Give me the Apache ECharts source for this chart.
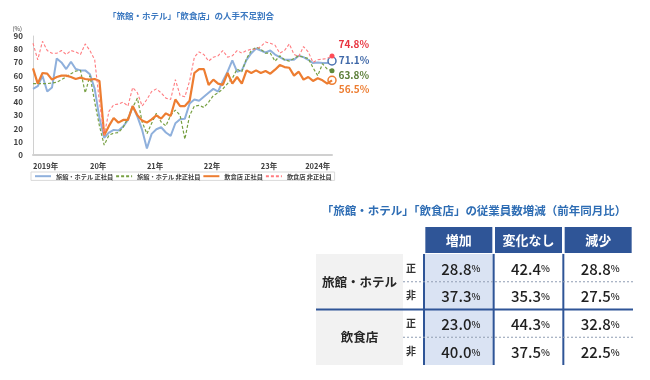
<!DOCTYPE html>
<html><head><meta charset="utf-8">
<script src="https://cdn.jsdelivr.net/npm/echarts@6/dist/echarts.min.js"></script>
<style>html,body{margin:0;padding:0;background:#fff}#c{width:650px;height:380px}</style>
</head><body><div id="c"></div>
<script>
const FONT = '"Noto Sans CJK JP", "Noto Sans", sans-serif';

// ---- line chart data (monthly, 2019/1 - 2024/4) ----
const months = [];
for (let i = 0; i < 64; i++) { months.push((2019 + Math.floor(i / 12)) + '/' + (i % 12 + 1)); }
const yearTickLabels = ['2019年', '20年', '21年', '22年', '23年', '2024年'];
const seriesNames = ['旅館・ホテル 正社員', '旅館・ホテル 非正社員', '飲食店 正社員', '飲食店 非正社員'];

const hotelStaff = [50, 52, 60, 48, 51, 73, 70, 65, 70.5, 65, 64, 64, 61, 50, 28, 13,
  17, 19, 18.5, 21.5, 26.5, 37, 29, 19, 5, 16, 19.5, 21, 17, 14.5, 24, 27,
  27.5, 39, 42, 41, 44, 47, 50, 48, 56, 63, 71.5, 63, 64, 72, 77, 80.5,
  79, 77.5, 79, 76, 74, 72, 72, 72, 75, 74, 72, 69.5, 70, 69.5, 69.5, 71.1];
const hotelPart = [54, 54, 54, 54, 54.5, 55, 57, 59, 61.5, 63.5, 64, 47, 60, 40, 22, 7.5,
  15, 16.5, 17, 21, 28, 36, 43, 25, 16, 24, 31.5, 25, 22, 30, 34, 30,
  12, 30, 37, 37.5, 36, 40, 45, 47, 50, 54, 58, 65, 63, 73, 79, 81.5,
  80, 77, 77, 71, 75, 72, 71, 73, 75, 74, 73, 66, 60, 69, 65, 63.8];
const restStaff = [65.5, 54, 62, 61.5, 57, 59, 60, 60, 59, 57.5, 58.5, 57.5, 57, 57.5, 56, 15,
  22, 28, 24.5, 26.5, 26.5, 37, 30, 26, 24.5, 27, 30, 27.5, 31.5, 29.5, 42, 37,
  37, 41, 62, 65, 65, 53, 57, 54, 53, 62, 54, 59, 54, 64, 62, 64,
  62, 63.5, 61.5, 64.5, 68, 66.5, 66, 60, 63, 57, 59, 56, 58, 56.5, 54, 56.5];
const restPart = [84.5, 72, 86, 79, 77, 77, 79, 76, 79, 78, 76, 84, 79, 72, 40, 15,
  33, 38, 38.5, 40, 37, 51, 47, 37, 42, 48, 50, 47, 43, 42, 57, 45,
  44, 56, 74, 78, 76, 71, 74, 75, 79, 74, 75, 79, 77, 79, 80, 80,
  82, 85.5, 84.5, 83, 77, 79, 84, 76, 74.5, 82, 78, 70, 72, 72.5, 73, 74.8];

// ---- table data ----
const tableTitle = '「旅館・ホテル」「飲食店」の従業員数増減（前年同月比）';
const tableCols = ['増加', '変化なし', '減少'];
const tableGroups = ['旅館・ホテル', '飲食店'];
const tableKinds = ['正', '非', '正', '非'];
const hotelStaffChange = [28.8, 42.4, 28.8];
const hotelPartChange = [37.3, 35.3, 27.5];
const restStaffChange = [23.0, 44.3, 32.8];
const restPartChange = [40.0, 37.5, 22.5];

// ---- layout ----
const G = { left: 33, top: 36, width: 299, height: 119 };
const TB = { left: 424, top: 254, width: 209, height: 111, groupLeft: 316, groupRight: 403 };
const BLUE = '#2f5597';

const last = months.length - 1;
function lineSeries(name, data, color, width, dash, mk) {
  return {
    type: 'line', name: name, data: data, xAxisIndex: 0, yAxisIndex: 0,
    symbol: 'none', smooth: false, z: mk.z,
    lineStyle: { color: color, width: width, type: dash || 'solid' },
    itemStyle: { color: color },
    markPoint: {
      symbol: 'circle', symbolSize: mk.size, silent: true,
      itemStyle: { color: mk.fill, borderColor: mk.border, borderWidth: mk.bw },
      label: {
        show: true, position: 'right', distance: mk.dist, offset: [0, mk.dy],
        formatter: function (p) { return p.value.toFixed(1) + '%'; },
        color: mk.labelColor, fontSize: 10, fontWeight: 'bold', fontFamily: FONT
      },
      data: [{ coord: [months[last], data[last]], value: data[last] }]
    }
  };
}

const tableRows = [hotelStaffChange, hotelPartChange, restStaffChange, restPartChange];
const tableData = [];
tableRows.forEach(function (row, r) { row.forEach(function (v, c) { tableData.push([c, r, v]); }); });

const graphics = [
  { type: 'text', x: 191, y: 16, z: 10, style: { text: '「旅館・ホテル」「飲食店」の人手不足割合', align: 'center', verticalAlign: 'middle', font: 'bold 8.5px ' + FONT, fill: '#3b78c0' } },
  { type: 'text', x: 474, y: 210.5, z: 10, style: { text: tableTitle, align: 'center', verticalAlign: 'middle', font: 'bold 11.5px ' + FONT, fill: '#2e6db4' } },
  { type: 'rect', z: 1, shape: { x: TB.groupLeft, y: TB.top, width: TB.groupRight - TB.groupLeft, height: TB.height }, style: { fill: '#f2f2f2' } }
];
tableGroups.forEach(function (g, i) {
  graphics.push({ type: 'text', z: 10, x: (TB.groupLeft + TB.groupRight) / 2, y: TB.top + TB.height * (i * 2 + 1) / 4,
    style: { text: g, align: 'center', verticalAlign: 'middle', font: 'bold 12.5px ' + FONT, fill: '#262626' } });
});
for (let c = 0; c < 3; c++) {
  const x = TB.left + c * TB.width / 3;
  graphics.push({ type: 'line', z: 100, shape: { x1: x, y1: TB.top, x2: x, y2: TB.top + TB.height }, style: { stroke: BLUE, lineWidth: 2 } });
}
[1, 3].forEach(function (k) {
  const y = TB.top + TB.height * k / 4;
  graphics.push({ type: 'line', z: 100, shape: { x1: TB.groupRight, y1: y, x2: TB.left + TB.width, y2: y }, style: { stroke: '#8f9db3', lineWidth: 1, lineDash: [2, 2] } });
});
graphics.push({ type: 'line', z: 100, shape: { x1: TB.groupLeft, y1: TB.top + TB.height / 2, x2: TB.left + TB.width, y2: TB.top + TB.height / 2 }, style: { stroke: BLUE, lineWidth: 2 } });

const option = {
  animation: false,
  backgroundColor: '#fff',
  textStyle: { fontFamily: FONT },
  grid: [
    { left: G.left, top: G.top, width: G.width, height: G.height, outerBoundsMode: 'none', containLabel: false },
    { left: TB.left, top: TB.top, width: TB.width, height: TB.height, outerBoundsMode: 'none', containLabel: false }
  ],
  legend: {
    data: seriesNames, left: 31, top: 172, padding: [1, 3], itemWidth: 16, itemHeight: 8, itemGap: 2,
    borderColor: '#d9d9d9', borderWidth: 1, itemStyle: { opacity: 0 },
    textStyle: { fontSize: 6.2, fontWeight: 'bold', color: '#404040', fontFamily: FONT }
  },
  xAxis: [
    {
      type: 'category', gridIndex: 0, data: months, boundaryGap: false,
      axisTick: { show: false },
      axisLine: { lineStyle: { color: '#d0d0d0', width: 2 } },
      axisLabel: {
        interval: function (i) { return i % 12 === 0; },
        formatter: function (v, i) { return yearTickLabels[Math.round(i / 12)]; },
        align: 'left', alignMaxLabel: 'center', margin: 7,
        fontSize: 7.5, fontWeight: 'bold', color: '#404040', fontFamily: FONT
      },
      splitLine: { show: false }
    },
    {
      type: 'category', gridIndex: 1, data: tableCols, position: 'top',
      axisTick: { show: false }, axisLine: { show: false }, splitLine: { show: false },
      axisLabel: {
        margin: 1, width: 67, height: 26, lineHeight: 26, align: 'center',
        backgroundColor: BLUE, color: '#fff', fontSize: 13, fontWeight: 'bold', fontFamily: FONT
      }
    }
  ],
  yAxis: [
    {
      type: 'value', gridIndex: 0, min: 0, max: 90, interval: 10,
      name: '(%)', nameLocation: 'end', nameGap: 4,
      nameTextStyle: { fontSize: 6, color: '#404040', align: 'right', padding: [0, 11, 0, 0], fontFamily: FONT },
      axisLine: { show: true, lineStyle: { color: '#d0d0d0', width: 1 } },
      axisTick: { show: false }, splitLine: { show: false },
      axisLabel: { margin: 10, fontSize: 8, fontWeight: 'bold', color: '#404040', fontFamily: FONT }
    },
    {
      type: 'category', gridIndex: 1, data: ['0', '1', '2', '3'], inverse: true,
      axisTick: { show: false }, axisLine: { show: false }, splitLine: { show: false },
      axisLabel: {
        formatter: function (v, i) { return tableKinds[i]; }, margin: 8,
        fontSize: 10, fontWeight: 'bold', color: '#333', fontFamily: FONT
      }
    }
  ],
  series: [
    lineSeries(seriesNames[0], hotelStaff, '#8fb0dc', 2, null,
      { z: 3, size: 8, fill: '#fff', border: '#4a72b0', bw: 1.5, dist: 2, dy: -1, labelColor: '#3f68a8' }),
    lineSeries(seriesNames[1], hotelPart, '#77a043', 1.2, [3, 2],
      { z: 4, size: 5, fill: '#5f8a3a', border: '#5f8a3a', bw: 0, dist: 4, dy: 4.5, labelColor: '#5a7d37' }),
    lineSeries(seriesNames[2], restStaff, '#ed7d31', 2.2, null,
      { z: 5, size: 8, fill: '#fff', border: '#ed7d31', bw: 1.5, dist: 2, dy: 9, labelColor: '#ed7d31' }),
    lineSeries(seriesNames[3], restPart, '#ff7c80', 1.1, [3, 2],
      { z: 6, size: 5, fill: '#ff4d57', border: '#ff4d57', bw: 0, dist: 4, dy: -12, labelColor: '#e8333f' }),
    {
      type: 'custom', xAxisIndex: 1, yAxisIndex: 1, data: tableData, z: 5, silent: true,
      renderItem: function (params, api) {
        const c = api.value(0), r = api.value(1), v = api.value(2);
        const p = api.coord([c, r]);
        const s = api.size([1, 1]);
        return {
          type: 'group', children: [
            { type: 'rect', shape: { x: p[0] - s[0] / 2, y: p[1] - s[1] / 2, width: s[0], height: s[1] },
              style: { fill: c === 0 ? '#dae3f3' : '#ffffff' } },
            { type: 'text', x: p[0] + 2, y: p[1] + 1,
              style: {
                text: '{n|' + v.toFixed(1) + '}{p|%}', align: 'center', verticalAlign: 'middle',
                rich: {
                  n: { fontSize: 15, fontWeight: 500, fontFamily: FONT, fill: '#1f1f1f' },
                  p: { fontSize: 9.5, fontWeight: 500, fontFamily: FONT, fill: '#1f1f1f' }
                }
              } }
          ]
        };
      }
    }
  ],
  graphic: graphics
};

const chart = echarts.init(document.getElementById('c'));
chart.setOption(option);
</script>
</body></html>
